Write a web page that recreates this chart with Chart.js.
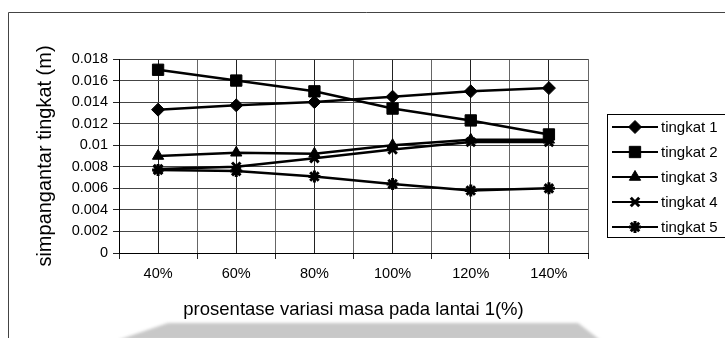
<!DOCTYPE html>
<html>
<head>
<meta charset="utf-8">
<script src="https://cdn.jsdelivr.net/npm/chart.js@4/dist/chart.umd.min.js"></script>
<style>
  html, body { margin: 0; padding: 0; background: #fff; }
  #wrap { width: 725px; height: 338px; position: relative; }
</style>
</head>
<body>
<div id="wrap"><canvas id="c" width="725" height="338"></canvas></div>
<script>
// Mass variation on floor 1 (x categories)
const categories = ['40%', '60%', '80%', '100%', '120%', '140%'];

// Inter-storey drift per storey (m)
const tingkat1 = [0.0133, 0.0137, 0.0140, 0.0145, 0.0150, 0.0153];
const tingkat2 = [0.0170, 0.0160, 0.0150, 0.0134, 0.0123, 0.0110];
const tingkat3 = [0.0090, 0.0093, 0.0092, 0.0100, 0.0105, 0.0105];
const tingkat4 = [0.0078, 0.0080, 0.0088, 0.0096, 0.0103, 0.0103];
const tingkat5 = [0.0077, 0.0076, 0.0071, 0.0064, 0.0058, 0.0060];

const seriesNames = ['tingkat 1', 'tingkat 2', 'tingkat 3', 'tingkat 4', 'tingkat 5'];
const yTickLabels = ['0', '0.002', '0.004', '0.006', '0.008', '0.01', '0.012', '0.014', '0.016', '0.018'];

const FONT = "'Liberation Sans', Arial, sans-serif";

const styles = [
  { pointStyle: 'rectRot', radius: 6.5, bw: 1 },
  { pointStyle: 'rect', radius: 8, bw: 1 },
  { pointStyle: 'triangle', radius: 6.5, bw: 1 },
  { pointStyle: 'crossRot', radius: 6, bw: 3 },
  { pointStyle: 'star', radius: 6, bw: 3 }
];

const seriesValues = [tingkat1, tingkat2, tingkat3, tingkat4, tingkat5];

const datasets = seriesValues.map((vals, i) => ({
  label: seriesNames[i],
  data: vals.map((v, k) => ({ x: k, y: v })),
  borderColor: '#000',
  backgroundColor: '#000',
  borderWidth: 2.5,
  pointStyle: styles[i].pointStyle,
  pointRadius: styles[i].radius,
  pointBorderWidth: styles[i].bw,
  pointBackgroundColor: '#000',
  pointBorderColor: '#000',
  tension: 0
}));

// Boxed legend on the right, each entry shows line + marker
const boxedLegend = {
  id: 'boxedLegend',
  afterDraw(chart) {
    const ctx = chart.ctx;
    ctx.save();
    // page frame
    ctx.strokeStyle = '#444';
    ctx.lineWidth = 1;
    ctx.beginPath();
    ctx.moveTo(8.5, 338);
    ctx.lineTo(8.5, 12.5);
    ctx.lineTo(725, 12.5);
    ctx.stroke();

    // legend box
    ctx.strokeStyle = '#000';
    ctx.lineWidth = 1;
    ctx.strokeRect(607.5, 114.5, 130, 123);
    chart.data.datasets.forEach((ds, i) => {
      const y = 127 + i * 25;
      ctx.strokeStyle = '#000';
      ctx.lineWidth = 2;
      ctx.beginPath();
      ctx.moveTo(612, y);
      ctx.lineTo(658, y);
      ctx.stroke();
      ctx.fillStyle = '#000';
      ctx.lineWidth = ds.pointBorderWidth;
      Chart.helpers.drawPoint(ctx, {
        pointStyle: ds.pointStyle,
        radius: ds.pointRadius,
        borderWidth: ds.pointBorderWidth,
        rotation: 0
      }, 635, y);
      ctx.fillStyle = '#000';
      ctx.font = '15px ' + FONT;
      ctx.textBaseline = 'middle';
      ctx.textAlign = 'left';
      ctx.fillText(ds.label, 661, y + 1);
    });

    // faint grey band along the bottom edge
    ctx.filter = 'blur(1.5px)';
    ctx.fillStyle = '#c8c8c8';
    ctx.beginPath();
    ctx.moveTo(168, 323);
    ctx.lineTo(578, 323);
    ctx.lineTo(600, 340);
    ctx.lineTo(118, 340);
    ctx.closePath();
    ctx.fill();
    ctx.restore();
  }
};

new Chart(document.getElementById('c'), {
  type: 'line',
  data: { datasets },
  options: {
    responsive: false,
    animation: false,
    devicePixelRatio: 1,
    layout: { padding: { left: 0, right: 137, top: 59, bottom: 0 } },
    plugins: {
      legend: { display: false },
      tooltip: { enabled: false }
    },
    scales: {
      x: {
        type: 'linear',
        min: -0.5,
        max: 5.5,
        afterFit(scale) { scale.height = 85; },
        afterBuildTicks(scale) {
          const t = [];
          for (let k = -1; k <= 11; k++) t.push({ value: k / 2 });
          scale.ticks = t;
        },
        ticks: {
          autoSkip: false,
          maxRotation: 0,
          padding: 6,
          color: '#000',
          font: { family: FONT, size: 14.5 },
          callback: (v) => Number.isInteger(v) ? categories[v] : ''
        },
        grid: {
          color: (c) => (c.tick && Number.isInteger(c.tick.value)) ? '#222' : '#666',
          tickColor: (c) => (c.tick && Number.isInteger(c.tick.value)) ? 'rgba(0,0,0,0)' : '#222',
          tickLength: 6,
          lineWidth: 1
        },
        border: { display: true, color: '#000', width: 1 },
        title: {
          display: true,
          text: 'prosentase variasi masa pada lantai 1(%)',
          color: '#000',
          font: { family: FONT, size: 18.5 },
          padding: { top: 17, bottom: 17 }
        }
      },
      y: {
        min: 0,
        max: 0.018,
        afterFit(scale) { scale.width = 119; },
        ticks: {
          stepSize: 0.002,
          padding: 5,
          color: '#000',
          font: { family: FONT, size: 14.5 },
          callback: (v, i) => yTickLabels[i]
        },
        grid: {
          color: '#444',
          tickColor: '#222',
          tickLength: 6,
          lineWidth: 1
        },
        border: { display: true, color: '#000', width: 1 },
        title: {
          display: true,
          text: 'simpangantar tingkat (m)',
          color: '#000',
          font: { family: FONT, size: 20 },
          padding: { top: 33, bottom: 33 }
        }
      }
    }
  },
  plugins: [boxedLegend]
});
</script>
</body>
</html>
